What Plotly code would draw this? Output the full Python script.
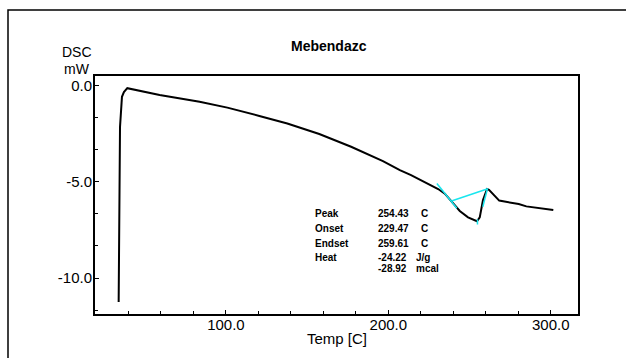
import plotly.graph_objects as go

# ---- data ----
temp_c = [33.97, 34.3, 34.8, 36.0, 37.2, 39.3, 59.2, 83.8, 100.9, 120.6, 137.8, 157.5,
          177.1, 196.7, 207.1, 214.0, 223.5, 227.5, 230.7, 234.8, 239.9, 244.0, 249.1,
          254.6, 256.3, 258.3, 260.8, 262.0, 268.3, 280.3, 285.0, 292.6, 301.6]
dsc_mw = [-11.24, -7.33, -2.16, -0.60, -0.35, -0.15, -0.50, -0.86, -1.16, -1.59, -1.98, -2.53,
          -3.19, -3.93, -4.40, -4.66, -5.09, -5.26, -5.38, -5.62, -6.09, -6.52, -6.85,
          -7.05, -6.85, -5.95, -5.38, -5.42, -5.98, -6.16, -6.28, -6.38, -6.47]

onset_tangent_x = [229.9, 242.2]
onset_tangent_y = [-5.09, -6.38]
baseline_x = [238.9, 260.8]
baseline_y = [-6.00, -5.38]
endset_tangent_x = [258.2, 261.1]
endset_tangent_y = [-6.30, -5.34]
peak_mark_x = [254.9, 254.9]
peak_mark_y = [-6.95, -7.22]

x_tick_vals = [100, 200, 300]
x_tick_text = ["100.0", "200.0", "300.0"]
y_tick_vals = [0, -5, -10]
y_tick_text = ["0.0", "-5.0", "-10.0"]

result_labels = ["Peak", "Onset", "Endset", "Heat", ""]
result_values = ["254.43", "229.47", "259.61", "-24.22", "-28.92"]
result_units = ["C", "C", "C", "J/g", "mcal"]

title_text = "Mebendazc"
x_title = "Temp [C]"
y_title_lines = ["DSC", "mW"]

# ---- layout geometry (pixels) ----
W, H = 626, 358
L, R, T, B = 95, 48, 76, 44
PW, PH = W - L - R, H - T - B

def xp(px):
    return (px - L) / PW

def yp(py):
    return (H - B - py) / PH

fig = go.Figure()
fig.add_trace(go.Scatter(x=temp_c, y=dsc_mw, mode="lines",
                         line=dict(color="black", width=2), showlegend=False))
cyan = "#19e6ee"
for xs, ys in [(onset_tangent_x, onset_tangent_y), (baseline_x, baseline_y),
               (endset_tangent_x, endset_tangent_y), (peak_mark_x, peak_mark_y)]:
    fig.add_trace(go.Scatter(x=xs, y=ys, mode="lines",
                             line=dict(color=cyan, width=1.5), showlegend=False))

font_fam = "Liberation Sans, Arial, sans-serif"
ann = []
ann.append(dict(text="<b>" + title_text + "</b>", x=xp(329), y=yp(46), xanchor="center",
                yanchor="middle", font=dict(size=14, color="black", family=font_fam)))
for i, t in enumerate(y_title_lines):
    ann.append(dict(text=t, x=xp(77), y=yp(52 + 17 * i), xanchor="center", yanchor="middle",
                    font=dict(size=14, color="black", family=font_fam)))
ann.append(dict(text=x_title, x=xp(337), y=yp(338), xanchor="center", yanchor="middle",
                font=dict(size=15, color="black", family=font_fam)))
rows_y = [214, 229, 243, 257, 268.7]
unit_x = [419, 419, 419, 414.4, 414.4]
for i in range(5):
    f = dict(size=10, color="black", family=font_fam)
    if result_labels[i]:
        ann.append(dict(text="<b>" + result_labels[i] + "</b>", x=xp(312.7), y=yp(rows_y[i]),
                        xanchor="left", yanchor="middle", font=f))
    ann.append(dict(text="<b>" + result_values[i] + "</b>", x=xp(376.4), y=yp(rows_y[i]),
                    xanchor="left", yanchor="middle", font=f))
    ann.append(dict(text="<b>" + result_units[i] + "</b>", x=xp(unit_x[i]), y=yp(rows_y[i]),
                    xanchor="left", yanchor="middle", font=f))
for a in ann:
    a.update(xref="paper", yref="paper", showarrow=False)

fig.update_layout(
    width=W, height=H, margin=dict(l=L, r=R, t=T, b=B, pad=0),
    paper_bgcolor="white", plot_bgcolor="white",
    annotations=ann,
    shapes=[dict(type="rect", xref="paper", yref="paper",
                 x0=xp(8), x1=xp(640), y0=yp(10), y1=yp(380),
                 line=dict(color="black", width=1.5), layer="below")],
    xaxis=dict(range=[19.4, 316.8], tickmode="array", tickvals=x_tick_vals, ticktext=x_tick_text,
               ticks="inside", ticklen=4, tickcolor="black", tickwidth=1,
               ticklabelstandoff=-4,
               minor=dict(tickmode="linear", tick0=0, dtick=20, ticks="inside", ticklen=3,
                          tickcolor="black"),
               showgrid=False, zeroline=False, showline=True, linecolor="black", linewidth=2,
               mirror=True, tickfont=dict(size=15, color="black", family=font_fam)),
    yaxis=dict(range=[-11.86, 0.48], tickmode="array", tickvals=y_tick_vals, ticktext=y_tick_text,
               ticks="inside", ticklen=4, tickcolor="black", tickwidth=1,
               ticklabelstandoff=-2,
               minor=dict(tickmode="linear", tick0=0, dtick=5 / 3, ticks="inside", ticklen=3,
                          tickcolor="black"),
               showgrid=False, zeroline=False, showline=True, linecolor="black", linewidth=2,
               mirror=True, tickfont=dict(size=15, color="black", family=font_fam)),
)
fig.write_html("out.html")
